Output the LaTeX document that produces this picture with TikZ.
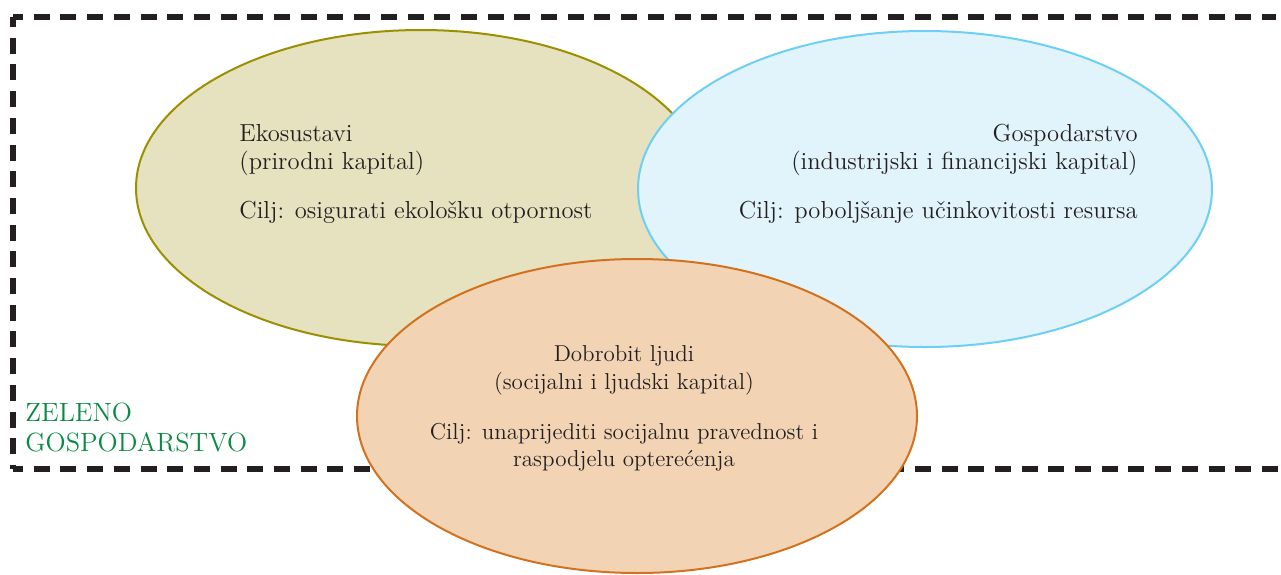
\documentclass[tikz,border=0pt]{standalone}
\usetikzlibrary{shapes.geometric}
\definecolor{txt}{HTML}{231F20}
\definecolor{olivefill}{HTML}{E6E1BF}
\definecolor{olivedraw}{HTML}{9A9000}
\definecolor{bluefill}{HTML}{E1F4FB}
\definecolor{bluedraw}{HTML}{6DCFF6}
\definecolor{orfill}{HTML}{F2D3B3}
\definecolor{ordraw}{HTML}{D2711E}
\definecolor{zgreen}{HTML}{0B8A43}
\begin{document}
\begin{tikzpicture}[x=0.5pt,y=-0.5pt,
  bubble/.style={ellipse,line width=1pt,inner sep=0pt},
  label/.style={inner sep=0pt,text=txt,font=\fontsize{12.3}{14}\selectfont},
  border/.style={line width=2.8pt,dash pattern=on 8pt off 5.35pt,dash phase=3pt,color=txt}]
\useasboundingbox (0,0) rectangle (1281,574);
\coordinate (tl) at (13,17);
\coordinate (tr) at (1276,17);
\coordinate (bl) at (13,469);
\coordinate (br) at (1280,469);
\draw[border] (tl) -- (tr);
\draw[border] (tl) -- (bl);
\draw[border] (bl) -- (br);
\node[bubble,draw=olivedraw,fill=olivefill,minimum width=285pt,minimum height=158pt] (eko) at (421,188) {};
\node[bubble,draw=bluedraw,fill=bluefill,minimum width=287pt,minimum height=158pt] (gos) at (925,189) {};
\node[bubble,draw=ordraw,fill=orfill,minimum width=280pt,minimum height=157pt] (dob) at (637,416) {};
\node[label,anchor=north west,align=left] (ekot) at (239,124) {Ekosustavi\\(prirodni kapital)\\[10.5pt]Cilj: osigurati ekološku otpornost};
\node[label,anchor=north east,align=right] (gost) at (1138,124) {Gospodarstvo\\(industrijski i financijski kapital)\\[10.5pt]Cilj: poboljšanje učinkovitosti resursa};
\node[label,font=\fontsize{11.5}{13.3}\selectfont,anchor=north,align=center] (dobt) at (624,345) {Dobrobit ljudi\\[0.7pt](socijalni i ljudski kapital)\\[12pt]Cilj: unaprijediti socijalnu pravednost i\\raspodjelu opterećenja};
\node[label,text=zgreen,font=\fontsize{13.2}{14.7}\selectfont,anchor=north west,align=left] (zg) at (25,403) {ZELENO\\GOSPODARSTVO};
\end{tikzpicture}
\end{document}
